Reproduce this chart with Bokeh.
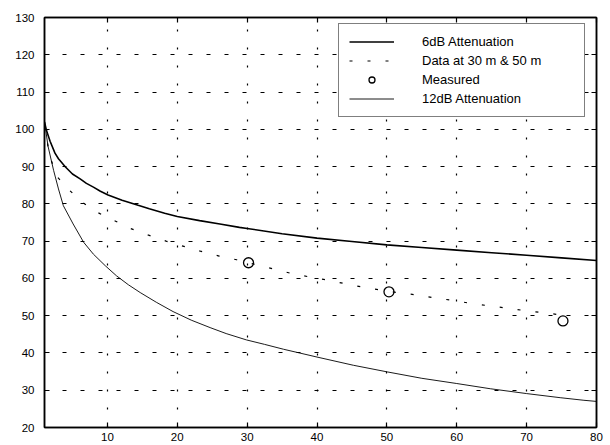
from bokeh.plotting import figure
from bokeh.models import (LinearAxis, FixedTicker, Legend, LegendItem, Range1d)
from bokeh.embed import file_html
from bokeh.resources import INLINE

# ---- data ----
x_6db = [1, 1.3, 1.8, 2.5, 3, 4, 5, 6.1, 7, 8, 9, 10.1, 12.1, 14.4, 16, 18.2, 20, 23.2,
         26.1, 28.9, 30, 35, 40, 45, 50, 55, 60, 65, 70, 75, 80]
y_6db = [102, 99.6, 96.8, 93.6, 92.1, 89.9, 88.0, 86.7, 85.5, 84.5, 83.4, 82.4, 81.0,
         79.6, 78.7, 77.5, 76.6, 75.5, 74.6, 73.7, 73.4, 72.0, 70.8, 69.9, 69.0, 68.3,
         67.6, 66.9, 66.2, 65.5, 64.8]

x_data = [1, 1.5, 2, 2.8, 4.6, 6.5, 8.7, 11, 13.3, 15.9, 18.4, 20, 23.3, 26, 28.5,
          30.2, 33.8, 36.4, 38.9, 41.4, 44, 46.7, 50.3, 54.5, 57.1, 59.8, 62.3, 64.9,
          67.6, 70, 72.8, 75]
y_data = [101, 95.5, 91.5, 87.3, 83.6, 80.3, 77.6, 75.5, 73.4, 71.6, 70.0, 69.1, 67.3,
          66.0, 65.0, 64.2, 62.5, 61.3, 60.4, 59.6, 58.6, 57.6, 56.5, 55.5, 54.7, 54.0,
          53.2, 52.6, 51.9, 51.3, 50.7, 50.2]

x_meas = [30.2, 50.3, 75.2]
y_meas = [64.2, 56.4, 48.6]

x_12db = [1, 1.2, 1.5, 2.3, 3, 3.7, 5.1, 6.6, 8, 9.7, 11.3, 13, 14.7, 17, 19.4, 22, 24.7,
          27, 29.9, 32.5, 35.2, 40, 45.2, 50.1, 55, 60, 64.8, 70, 74.8, 78.2, 80]
y_12db = [102, 99.5, 95.5, 89.0, 84.0, 79.5, 74.6, 69.7, 66.5, 63.4, 60.7, 58.3, 56.2,
          53.6, 51.1, 48.8, 46.8, 45.2, 43.5, 42.3, 41.0, 38.9, 36.7, 34.9, 33.2, 31.8,
          30.4, 29.1, 28.0, 27.3, 27.0]

x_ticks = [10, 20, 30, 40, 50, 60, 70, 80]
y_ticks = [20, 30, 40, 50, 60, 70, 80, 90, 100, 110, 120, 130]

labels = ["6dB Attenuation", "Data at 30 m & 50 m", "Measured", "12dB Attenuation"]

FONT = "Liberation Sans"

p = figure(width=610, height=445, output_backend="svg", toolbar_location=None,
           x_range=Range1d(1, 80), y_range=Range1d(20, 130),
           min_border_left=44, min_border_right=14, min_border_top=17,
           min_border_bottom=18, x_axis_location=None, y_axis_location=None)
p.background_fill_color = "white"
p.border_fill_color = "white"
p.outline_line_color = "black"
p.outline_line_width = 1.5


def make_axis(ticks, show_labels, standoff):
    ax = LinearAxis(ticker=FixedTicker(ticks=ticks))
    ax.major_tick_in = 5
    ax.major_tick_out = 0
    ax.minor_tick_in = 0
    ax.minor_tick_out = 0
    ax.axis_line_color = "black"
    ax.axis_line_width = 1.5
    ax.major_tick_line_color = "black"
    ax.major_tick_line_width = 1.2
    ax.major_label_text_font = FONT
    ax.major_label_text_color = "black"
    ax.major_label_text_font_size = "11.5px"
    ax.major_label_standoff = standoff
    if not show_labels:
        ax.major_label_overrides = {t: "" for t in ticks}
        ax.major_label_standoff = 0
    return ax


p.add_layout(make_axis(x_ticks, True, 5), "below")
p.add_layout(make_axis(x_ticks, False, 0), "above")
p.add_layout(make_axis(y_ticks, True, 10), "left")
p.add_layout(make_axis(y_ticks, False, 0), "right")

p.xgrid.ticker = FixedTicker(ticks=x_ticks)
p.ygrid.ticker = FixedTicker(ticks=y_ticks)
p.xgrid.grid_line_color = "black"
p.ygrid.grid_line_color = "black"
p.xgrid.grid_line_dash = "2 16"
p.ygrid.grid_line_dash = "4 14"
p.xgrid.grid_line_width = 1.2
p.ygrid.grid_line_width = 1.2

r6 = p.line(x_6db, y_6db, line_color="black", line_width=1.6)
rd = p.line(x_data, y_data, line_color="black", line_width=1.2, line_dash="3 15")
rm = p.scatter(x_meas, y_meas, marker="circle", size=10, fill_color=None,
               line_color="black", line_width=1.3)
r12 = p.line(x_12db, y_12db, line_color="black", line_width=0.9)

legend = Legend(items=[LegendItem(label=labels[0], renderers=[r6]),
                       LegendItem(label=labels[1], renderers=[rd]),
                       LegendItem(label=labels[2], renderers=[rm]),
                       LegendItem(label=labels[3], renderers=[r12])],
                location=(294, 310))
legend.label_text_font = FONT
legend.label_text_font_size = "13px"
legend.label_text_color = "black"
legend.glyph_width = 45
legend.glyph_height = 15
legend.label_height = 15
legend.label_width = 152
legend.label_standoff = 28
legend.spacing = 4
legend.padding = 10
legend.margin = 0
legend.border_line_color = "black"
legend.border_line_width = 1.3
legend.background_fill_color = "white"
legend.background_fill_alpha = 1.0
p.add_layout(legend)

open("out.html", "w").write(file_html(p, INLINE))
